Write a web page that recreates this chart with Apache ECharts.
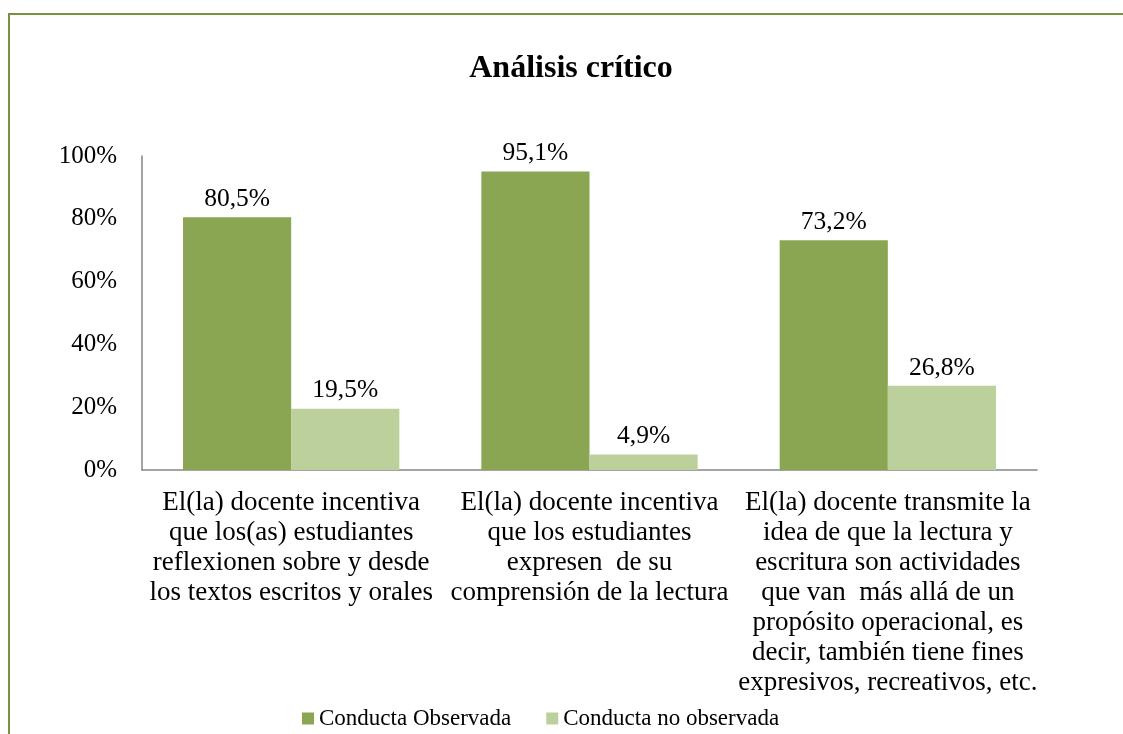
<!DOCTYPE html>
<html>
<head>
<meta charset="utf-8">
<script src="https://cdn.jsdelivr.net/npm/echarts@6/dist/echarts.min.js"></script>
<style>
  html, body { margin: 0; padding: 0; background: #fff; }
  #chart { width: 1123px; height: 734px; }
</style>
</head>
<body>
<div id="chart"></div>
<script>
// Categories (question statements) and percentages for each behaviour
const categories = [
  'El(la) docente incentiva\nque los(as) estudiantes\nreflexionen sobre y desde\nlos textos escritos y orales',
  'El(la) docente incentiva\nque los estudiantes\nexpresen  de su\ncomprensión de la lectura',
  'El(la) docente transmite la\nidea de que la lectura y\nescritura son actividades\nque van  más allá de un\npropósito operacional, es\ndecir, también tiene fines\nexpresivos, recreativos, etc.'
];
const observada = [80.5, 95.1, 73.2];
const noObservada = [19.5, 4.9, 26.8];
const seriesNames = ['Conducta Observada', 'Conducta no observada'];
const yTicks = [0, 20, 40, 60, 80, 100];

const FONT = '"Liberation Serif", "Times New Roman", serif';
const fmt = v => v.toFixed(1).replace('.', ',') + '%';

const chart = echarts.init(document.getElementById('chart'), null, { renderer: 'canvas' });
chart.setOption({
  animation: false,
  backgroundColor: '#ffffff',
  textStyle: { fontFamily: FONT, color: '#000' },
  graphic: [{
    type: 'rect',
    shape: { x: 9, y: 14, width: 1300, height: 900 },
    style: { fill: 'none', stroke: '#77933C', lineWidth: 2 },
    silent: true
  }],
  title: {
    text: 'Análisis crítico',
    left: 566, top: 48, textAlign: 'center',
    textStyle: { fontFamily: FONT, fontSize: 32, fontWeight: 'bold', color: '#000' }
  },
  legend: {
    data: seriesNames,
    left: 297, top: 702,
    icon: 'rect', itemWidth: 12, itemHeight: 12, itemGap: 35,
    textStyle: { fontFamily: FONT, fontSize: 23, color: '#000' }
  },
  grid: { left: 142, top: 156, width: 895, height: 314, containLabel: false },
  xAxis: {
    type: 'category',
    data: categories,
    axisLine: { lineStyle: { color: '#868686', width: 1.5 } },
    axisTick: { show: false },
    axisLabel: {
      interval: 0, margin: 18, fontFamily: FONT, fontSize: 27, lineHeight: 30,
      color: '#000', align: 'center'
    }
  },
  yAxis: {
    type: 'value',
    min: yTicks[0], max: yTicks[yTicks.length - 1], interval: 20,
    splitLine: { show: false },
    axisLine: { show: true, lineStyle: { color: '#868686', width: 1.5 } },
    axisTick: { show: false },
    axisLabel: { margin: 25, fontFamily: FONT, fontSize: 25, color: '#000', formatter: '{value}%' }
  },
  series: [
    {
      name: seriesNames[0], type: 'bar', data: observada,
      barGap: '0%', barCategoryGap: '27.5%',
      itemStyle: { color: '#8AA652' },
      label: { show: true, position: 'top', distance: 5, fontFamily: FONT, fontSize: 25.5, color: '#000',
               formatter: p => fmt(p.value) }
    },
    {
      name: seriesNames[1], type: 'bar', data: noObservada,
      barGap: '0%', barCategoryGap: '27.5%',
      itemStyle: { color: '#BBD09A' },
      label: { show: true, position: 'top', distance: 5, fontFamily: FONT, fontSize: 25.5, color: '#000',
               formatter: p => fmt(p.value) }
    }
  ]
});
</script>
</body>
</html>
